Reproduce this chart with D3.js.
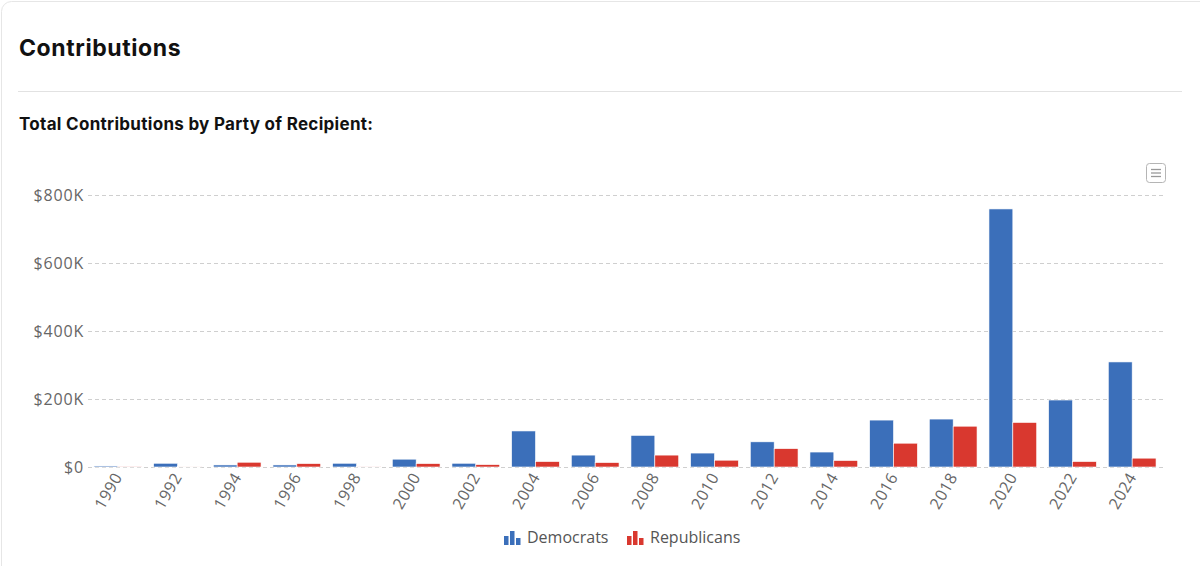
<!DOCTYPE html>
<html>
<head>
<meta charset="utf-8">
<script src="https://cdn.jsdelivr.net/npm/d3@7"></script>
<style>
  body { margin: 0; background: #fff; font-family: Inter, "Noto Sans", sans-serif; }
  svg { display: block; }
</style>
</head>
<body>
<svg width="1200" height="566"></svg>
<script>
// data
const years = ["1990","1992","1994","1996","1998","2000","2002","2004","2006","2008",
               "2010","2012","2014","2016","2018","2020","2022","2024"];
const democrats = [3000, 11000, 6000, 6000, 11000, 23000, 11000, 106000, 35000, 93000,
                   41000, 74000, 44000, 138000, 141000, 759000, 197000, 309000];
const republicans = [500, 1000, 14000, 10000, 1500, 10000, 7000, 16000, 13000, 35000,
                     20000, 54000, 19000, 70000, 120000, 131000, 16000, 26000];
const yTicks = [0, 200000, 400000, 600000, 800000];
const seriesNames = ["Democrats", "Republicans"];
const colors = ["#3b6fba", "#d9382f"];

var svg = d3.select("svg");

// card
svg.append("rect")
  .attr("x", 1.5).attr("y", 1.5).attr("width", 1220).attr("height", 600)
  .attr("rx", 10).attr("fill", "#fff").attr("stroke", "#e6e6e6");

svg.append("text")
  .attr("x", 19).attr("y", 56)
  .attr("font-size", 23).attr("font-weight", 700).attr("fill", "#111")
  .attr("letter-spacing", 0.6)
  .text("Contributions");

svg.append("line")
  .attr("x1", 18).attr("x2", 1182).attr("y1", 91.5).attr("y2", 91.5)
  .attr("stroke", "#e2e2e2");

svg.append("text")
  .attr("x", 19).attr("y", 130)
  .attr("font-size", 17).attr("font-weight", 700).attr("fill", "#111")
  .attr("letter-spacing", 0.3)
  .text("Total Contributions by Party of Recipient:");

// plot
const plotLeft = 88, plotRight = 1162, plotTop = 195, plotBottom = 467;

const x = d3.scaleBand().domain(years).range([plotLeft, plotRight]).paddingInner(0.2).paddingOuter(0.1);
const xSub = d3.scaleBand().domain(seriesNames).range([0, x.bandwidth()]);
const y = d3.scaleLinear().domain([0, 800000]).range([plotBottom, plotTop]);

const axisFont = "'Open Sans', 'Noto Sans', sans-serif";

// grid
svg.append("g")
  .selectAll("line")
  .data(yTicks)
  .enter()
  .append("line")
  .attr("x1", plotLeft).attr("x2", plotRight + 2)
  .attr("y1", d => Math.round(y(d)) + 0.5).attr("y2", d => Math.round(y(d)) + 0.5)
  .attr("stroke", "#cfcfcf")
  .attr("stroke-dasharray", "4,3");

// y axis
const yAxis = svg.append("g")
  .attr("transform", "translate(" + (plotLeft - 4) + ",0)")
  .call(d3.axisLeft(y).tickValues(yTicks).tickSize(0).tickPadding(0)
    .tickFormat(d => "$" + (d === 0 ? "0" : d / 1000 + "K")));
yAxis.select(".domain").remove();
yAxis.selectAll("text")
  .attr("font-family", axisFont).attr("font-size", 16).attr("fill", "#666")
  .attr("letter-spacing", 0.8);

// bars
const groups = svg.append("g")
  .selectAll("g")
  .data(years)
  .enter()
  .append("g")
  .attr("transform", d => "translate(" + x(d) + ",0)");

groups.selectAll("rect")
  .data((d, i) => [
    { name: "Democrats", value: democrats[i] },
    { name: "Republicans", value: republicans[i] }
  ])
  .enter()
  .append("rect")
  .attr("x", d => xSub(d.name))
  .attr("width", xSub.bandwidth())
  .attr("y", d => y(d.value))
  .attr("height", d => plotBottom - y(d.value))
  .attr("fill", (d, i) => colors[i])
  .attr("stroke", "#fff")
  .attr("stroke-width", 0.6);

// x axis
const xAxis = svg.append("g")
  .attr("transform", "translate(0," + plotBottom + ")")
  .call(d3.axisBottom(x).tickSize(0).tickPadding(0));
xAxis.select(".domain").remove();
xAxis.selectAll("text")
  .attr("font-family", axisFont).attr("font-size", 16).attr("fill", "#666")
  .attr("letter-spacing", 0.5)
  .attr("text-anchor", "end")
  .attr("dy", null)
  .attr("transform", "translate(5,10) rotate(-60)");

// menu icon
const menu = svg.append("g").attr("transform", "translate(1146,163)");
menu.append("rect")
  .attr("x", 0.5).attr("y", 0.5).attr("width", 19).attr("height", 19).attr("rx", 3)
  .attr("fill", "#fff").attr("stroke", "#b5b5b5");
menu.selectAll("line")
  .data([6.5, 10, 13.5])
  .enter()
  .append("line")
  .attr("x1", 5).attr("x2", 15).attr("y1", d => d).attr("y2", d => d)
  .attr("stroke", "#999").attr("stroke-width", 1.3);

// legend
const legendX = [504, 627];
const legend = svg.append("g")
  .selectAll("g")
  .data(seriesNames)
  .enter()
  .append("g")
  .attr("transform", (d, i) => "translate(" + legendX[i] + ",529)");

legend.each(function (d, i) {
  const lg = d3.select(this);
  [[0, 7, 9], [6, 2, 14], [12, 9, 7]].forEach(function (b) {
    lg.append("rect")
      .attr("x", b[0]).attr("y", b[1]).attr("width", 4.5).attr("height", b[2])
      .attr("fill", colors[i]);
  });
  lg.append("text")
    .attr("x", 23).attr("y", 14)
    .attr("font-family", axisFont).attr("font-size", 16).attr("fill", "#555")
    .text(d);
});
</script>
</body>
</html>
